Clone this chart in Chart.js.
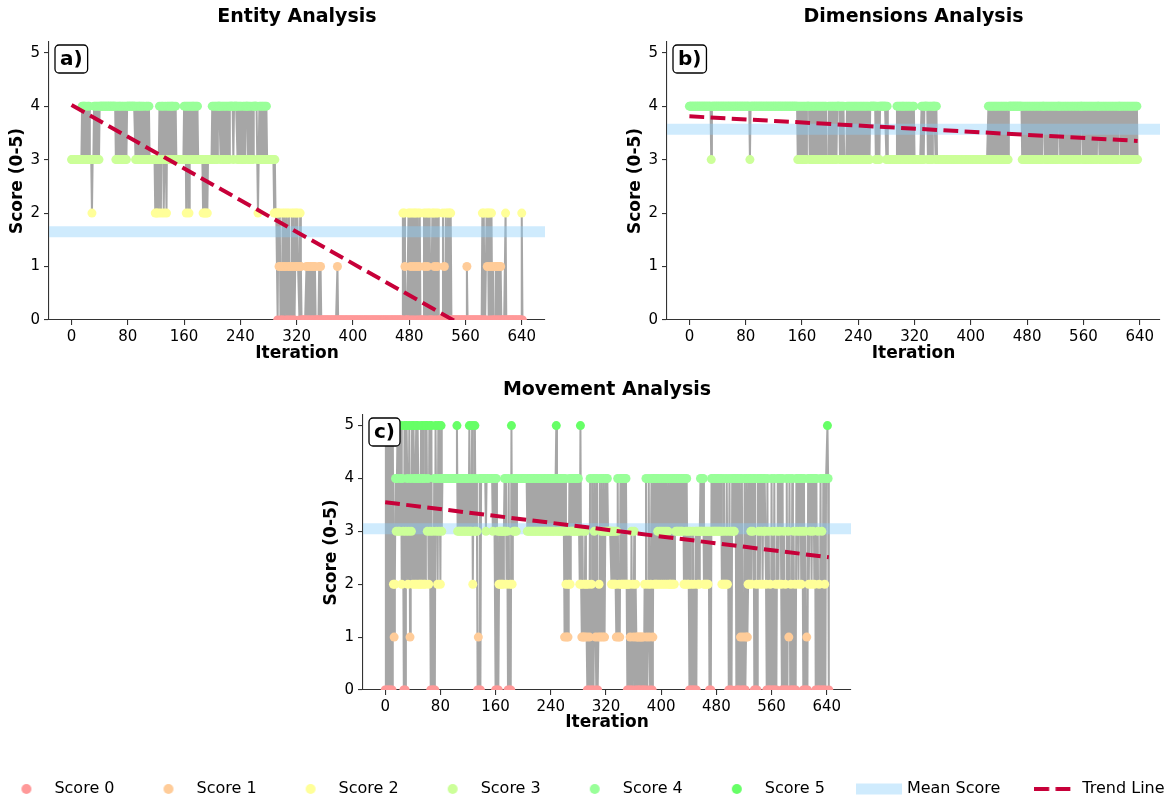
<!DOCTYPE html>
<html>
<head>
<meta charset="utf-8">
<script src="https://cdn.jsdelivr.net/npm/chart.js@4.4.1/dist/chart.umd.min.js"></script>
<style>
html,body{margin:0;padding:0;background:#fff;overflow:hidden;width:1171px;height:801px;}
canvas{position:absolute;display:block;}
</style>
</head>
<body>
<canvas id="cA" width="585" height="370" style="left:0;top:0"></canvas>
<canvas id="cB" width="586" height="370" style="left:585px;top:0"></canvas>
<canvas id="cC" width="1171" height="370" style="left:0;top:370px"></canvas>
<canvas id="cL" width="1271" height="100" style="left:-50px;top:747px"></canvas>
<script>
// ---------------- data ----------------
const iterationTicks = [0, 80, 160, 240, 320, 400, 480, 560, 640];
const scoreTicks = [0, 1, 2, 3, 4, 5];
const panelTitles = ['Entity Analysis', 'Dimensions Analysis', 'Movement Analysis'];
const panelTags = ['a)', 'b)', 'c)'];
const legendLabels = ['Score 0', 'Score 1', 'Score 2', 'Score 3', 'Score 4', 'Score 5', 'Mean Score', 'Trend Line'];

// score per iteration; a string lists consecutive iteration scores, [score, count] is a run
const entityRuns = [[3,15],"43443433434","333233","434343434",[4,22],"34343","44","3434343434",[4,11],
  "34343443434343343434",[3,7],"3232323","43243423432","4343434434334",[3,11],"4342434243434","4343434",
  [3,6],"323232323",[3,5],"43434343",[4,4],"3434343434343",[4,5],"3",[4,5],"343434334343444343433434",[4,4],
  "323434","343434343",[3,9],"23222","0212010201210201201021020","121211","021",[0,6],"010100101001010",
  [0,3],"01010",[0,22],"1",[0,92],"20210000","202102012021020120",[0,4],"210201202",[0,3],"2021020120",
  [0,5],"20102",[0,2],"202020",[0,21],"1",[0,21],"2020",[0,2],"2120210201",[0,3],"10100101",[0,6],"2",
  [0,22],"20"];

const dimensionRuns = [[4,31],"3",[4,54],"3",[4,67],"34343434343434","444","343434343434343434343434","333",
  "4343434343434","444","3434343","333","434343434343434343434343434343433",[4,8],"343343",[4,9],"343",
  [3,12],"43434343443434343434334343",[3,9],"434344444","3434343","444","43433",[3,71],
  "43434343434343434343434343433",[4,19],"343434343434343434343434343434","44","3434343434343434343",
  [4,3],"34343434343434343434343434343","444","343434343434343434343","444",
  "343434343434343434343434343","444","3434343434343434343434343"];

const movementRuns = ["050505050505","21243","4535345243","0503","5423514352","5424525424252452425",
  "534253","0503040","5342534253",[4,21],"5","34343434343434343","534352435343","01040",
  "444444434444444443444","040302","323232343423","04020","5","2434343",[4,15],
  "343434343434343434343434343434343434343434","5","34343434343","142131242","343434343434",
  "325213121321","0201402","040341040124134134134343","3333","232323213","4121","4242424242",
  "0202","1030213021","01010101010","2041024102401","424242","342342342342342342","24242424",
  "343434343434","24234232","03020302030","32323","43434","23232323","030",
  "43434343434343","4232423242","3","04030","434344","040404","10401040","14124243",
  "2434","040204","342434243432","040302040304020","3424342","0403020403140204030204",
  "342434243","0403010","42434243424","0403020403040204","4540"];

const meanScores = [1.65, 3.57, 3.05];
const trendStart = [4.02, 3.81, 3.55];   // trend value at first iteration
const trendEnd = [-0.73, 3.35, 2.51];    // trend value at last iteration

// ---------------- styles ----------------
const scoreColors = ['#FF9999', '#FFCC99', '#FFFF99', '#CCFF99', '#99FF99', '#66FF66'];
const lineGray = 'rgba(128,128,128,0.7)';
const bandColor = 'rgba(135,206,250,0.4)';
const trendColor = '#C70039';
const FONT = "'DejaVu Sans', 'Liberation Sans', sans-serif";
Chart.defaults.font.family = FONT;
Chart.defaults.color = '#000';

function expand(runs) {
  const out = [];
  for (const r of runs) {
    if (typeof r === 'string') { for (const ch of r) out.push(Number(ch)); }
    else { for (let k = 0; k < r[1]; k++) out.push(r[0]); }
  }
  return out;
}

function tagPlugin(txt) {
  return {
    id: 'panelTag',
    afterDatasetsDraw(chart) {
      const {ctx, chartArea} = chart;
      ctx.save();
      ctx.font = 'bold 20px ' + FONT;
      const w = ctx.measureText(txt).width + 10, h = 28, r = 4;
      const x = chartArea.left + 6, y = chartArea.top + 3;
      ctx.beginPath();
      ctx.moveTo(x + r, y);
      ctx.lineTo(x + w - r, y); ctx.arcTo(x + w, y, x + w, y + r, r);
      ctx.lineTo(x + w, y + h - r); ctx.arcTo(x + w, y + h, x + w - r, y + h, r);
      ctx.lineTo(x + r, y + h); ctx.arcTo(x, y + h, x, y + h - r, r);
      ctx.lineTo(x, y + r); ctx.arcTo(x, y, x + r, y, r);
      ctx.closePath();
      ctx.fillStyle = '#fff'; ctx.fill();
      ctx.lineWidth = 1.3; ctx.strokeStyle = '#000'; ctx.stroke();
      ctx.fillStyle = '#000'; ctx.textAlign = 'center'; ctx.textBaseline = 'middle';
      ctx.fillText(txt, x + w / 2, y + h / 2 + 1);
      ctx.restore();
    }
  };
}

function makePanel(id, idx, runs, lay) {
  const scores = expand(runs);
  const n = scores.length;
  const pts = scores.map((v, i) => ({x: i, y: v}));
  const xMin = -0.05 * (n - 1), xMax = 1.05 * (n - 1);
  const m = meanScores[idx];
  return new Chart(document.getElementById(id), {
    type: 'line',
    data: {
      datasets: [
        {label: 'Trend Line', data: [{x: 0, y: trendStart[idx]}, {x: n - 1, y: trendEnd[idx]}],
         borderColor: trendColor, borderWidth: 4, borderDash: [14.8, 6.4], borderCapStyle: 'butt',
         pointRadius: 0, order: 0},
        {label: 'Scores', data: pts, showLine: false, pointRadius: 4.5, pointHoverRadius: 4.5,
         pointBorderWidth: 0, pointBackgroundColor: c => scoreColors[c.raw.y], order: 1},
        {label: 'Mean Score', data: [{x: xMin, y: m}, {x: xMax, y: m}], borderColor: bandColor,
         borderWidth: 11, borderCapStyle: 'butt', pointRadius: 0, order: 2},
        {label: 'Path', data: pts, borderColor: lineGray, borderWidth: 2, borderJoinStyle: 'round',
         pointRadius: 0, tension: 0, order: 3}
      ]
    },
    options: {
      responsive: false, animation: false, events: [],
      layout: {padding: lay.padding},
      plugins: {
        legend: {display: false}, tooltip: {enabled: false},
        title: {display: true, text: panelTitles[idx], fullSize: false, color: '#000',
                font: {size: 19, weight: 'bold'}, padding: {top: lay.titleTop, bottom: lay.titleBottom}}
      },
      scales: {
        x: {
          type: 'linear', min: xMin, max: xMax,
          afterBuildTicks: s => { s.ticks = iterationTicks.map(v => ({value: v})); },
          afterFit: s => { s.height = lay.xHeight; },
          grid: {display: true, drawOnChartArea: false, drawTicks: true, tickLength: 5, color: '#333', lineWidth: 1.1},
          border: {display: true, color: '#333', width: 1.1},
          ticks: {font: {size: 15}, color: '#000', padding: 3, maxRotation: 0, autoSkip: false},
          title: {display: true, text: 'Iteration', color: '#000', font: {size: 17, weight: 'bold'},
                  padding: {top: 0, bottom: lay.xTitleBottom}}
        },
        y: {
          type: 'linear', min: 0, max: 5.2,
          afterBuildTicks: s => { s.ticks = scoreTicks.map(v => ({value: v})); },
          afterFit: s => { s.width = 49; },
          grid: {display: true, drawOnChartArea: false, drawTicks: true, tickLength: 5, color: '#333', lineWidth: 1.1},
          border: {display: true, color: '#333', width: 1.1},
          ticks: {font: {size: 15}, color: '#000', padding: 4},
          title: {display: true, text: 'Score (0-5)', color: '#000', font: {size: 17, weight: 'bold'},
                  padding: {top: 7.8, bottom: 0}}
        }
      }
    },
    plugins: [tagPlugin(panelTags[idx])]
  });
}

makePanel('cA', 0, entityRuns, {padding: {left: 0, right: 40, top: 0, bottom: 0},
  titleTop: 5.6, titleBottom: 13.6, xHeight: 50, xTitleBottom: 5.8});
makePanel('cB', 1, dimensionRuns, {padding: {left: 33, right: 11, top: 0, bottom: 0},
  titleTop: 5.6, titleBottom: 13.6, xHeight: 50, xTitleBottom: 5.8});
makePanel('cC', 2, movementRuns, {padding: {left: 314, right: 320, top: 0, bottom: 0},
  titleTop: 8.6, titleBottom: 13.6, xHeight: 50, xTitleBottom: 6.8});

// ---------------- shared legend ----------------
function handle(w, draw) {
  const c = document.createElement('canvas');
  c.width = w; c.height = 20;
  draw(c.getContext('2d'), w);
  return c;
}
const legendHandles = [];
for (let k = 0; k < 6; k++) {
  legendHandles.push(handle(40, (g) => { g.fillStyle = scoreColors[k]; g.beginPath(); g.arc(20, 10, 5, 0, Math.PI * 2); g.fill(); }));
}
legendHandles.push(handle(46, (g, w) => { g.fillStyle = bandColor; g.fillRect(0, 4.5, w, 11); }));
legendHandles.push(handle(40, (g, w) => {
  g.strokeStyle = trendColor; g.lineWidth = 4; g.setLineDash([14.8, 6.4]);
  g.beginPath(); g.moveTo(0, 10); g.lineTo(w, 10); g.stroke();
}));
const legendItems = legendLabels.map((t, i) => ({
  text: t, pointStyle: legendHandles[i], fillStyle: 'rgba(0,0,0,0)', strokeStyle: 'rgba(0,0,0,0)',
  lineWidth: 0, hidden: false, fontColor: '#000', datasetIndex: i
}));
new Chart(document.getElementById('cL'), {
  type: 'line',
  data: {datasets: []},
  options: {
    responsive: false, animation: false, events: [],
    layout: {padding: 0},
    scales: {x: {display: false}, y: {display: false}},
    plugins: {
      tooltip: {enabled: false},
      legend: {display: true, position: 'top',
        labels: {usePointStyle: true, pointStyleWidth: 40, padding: 34, color: '#000',
                 font: {size: 16}, generateLabels: () => legendItems}}
    }
  }
});
</script>
</body>
</html>
